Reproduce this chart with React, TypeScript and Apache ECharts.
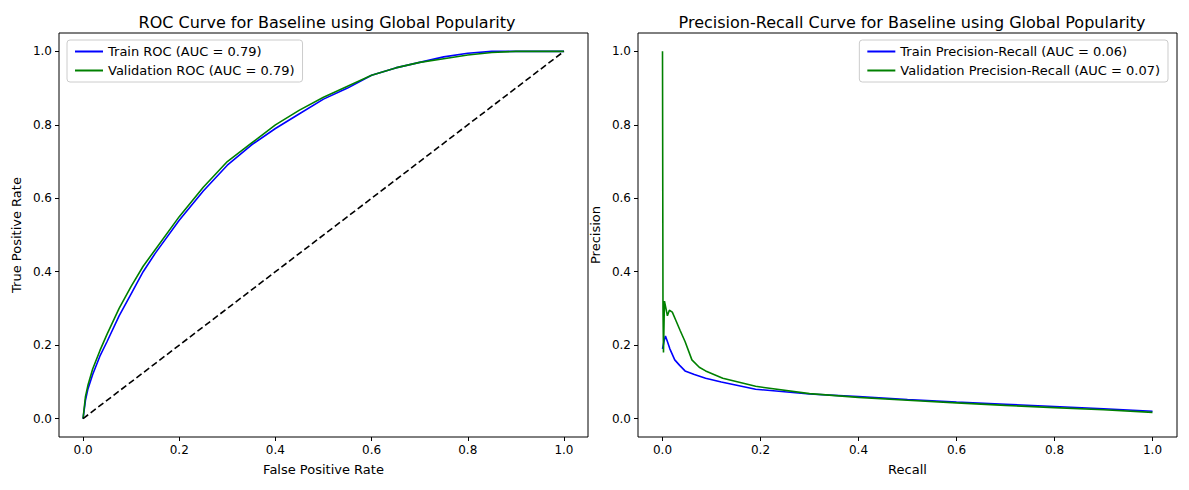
import React, { useEffect, useRef } from 'react';
import * as echarts from 'echarts';

const rocTrain: number[][] = [
  [0, 0], [0.005, 0.05], [0.01, 0.08], [0.02, 0.12], [0.035, 0.17], [0.05, 0.21], [0.075, 0.28], [0.1, 0.34],
  [0.125, 0.4], [0.15, 0.45], [0.2, 0.54], [0.25, 0.62], [0.3, 0.69], [0.35, 0.745], [0.4, 0.79],
  [0.45, 0.83], [0.5, 0.87], [0.55, 0.9], [0.6, 0.935], [0.65, 0.955], [0.7, 0.97], [0.75, 0.985],
  [0.8, 0.995], [0.85, 1.0], [1, 1],
];
const rocVal: number[][] = [
  [0, 0], [0.005, 0.06], [0.01, 0.09], [0.02, 0.135], [0.035, 0.185], [0.05, 0.23], [0.075, 0.3], [0.1, 0.36],
  [0.125, 0.415], [0.15, 0.46], [0.2, 0.55], [0.25, 0.63], [0.3, 0.7], [0.35, 0.75], [0.4, 0.8],
  [0.45, 0.84], [0.5, 0.875], [0.55, 0.905], [0.6, 0.935], [0.65, 0.955], [0.7, 0.97], [0.75, 0.98],
  [0.8, 0.99], [0.85, 0.997], [0.9, 1.0], [1, 1],
];
const diagonal: number[][] = [[0, 0], [1, 1]];
const prTrain: number[][] = [
  [0, 0.19], [0.003, 0.21], [0.006, 0.225], [0.01, 0.21], [0.015, 0.19], [0.025, 0.16], [0.035, 0.145],
  [0.046, 0.13], [0.065, 0.12], [0.088, 0.11], [0.12, 0.1], [0.19, 0.08], [0.3, 0.067], [0.4, 0.06],
  [0.5, 0.052], [0.6, 0.045], [0.7, 0.039], [0.8, 0.033], [0.9, 0.027], [1, 0.02],
];
const prVal: number[][] = [
  [0, 1.0], [0.001, 0.3], [0.002, 0.18], [0.004, 0.32], [0.007, 0.3], [0.01, 0.28], [0.014, 0.295],
  [0.02, 0.29], [0.028, 0.265], [0.036, 0.24], [0.046, 0.21], [0.06, 0.16], [0.075, 0.14], [0.088, 0.13],
  [0.123, 0.11], [0.19, 0.088], [0.3, 0.068], [0.4, 0.058], [0.5, 0.05], [0.6, 0.043], [0.7, 0.036],
  [0.8, 0.03], [0.9, 0.024], [1, 0.017],
];
const ticks = [0, 0.2, 0.4, 0.6, 0.8, 1.0];

const font = 'DejaVu Sans';

const axis = (gridIndex: number, name: string, horizontal: boolean) => ({
  type: 'value' as const,
  gridIndex,
  min: -0.05,
  max: 1.05,
  name,
  nameLocation: 'middle' as const,
  nameGap: horizontal ? 26 : 36,
  nameTextStyle: { fontFamily: font, fontSize: 13, color: '#000' },
  axisLine: { show: false, onZero: false },
  splitLine: { show: false },
  axisTick: { show: true, inside: false, length: 4, customValues: ticks, lineStyle: { color: '#000' } },
  axisLabel: {
    customValues: ticks,
    formatter: (v: number) => v.toFixed(1),
    fontFamily: font,
    fontSize: 12,
    color: '#000',
    margin: 7,
  },
});

const line = (name: string, data: number[][], color: string, x: number, dashed = false) => ({
  name,
  type: 'line' as const,
  xAxisIndex: x,
  yAxisIndex: x,
  data,
  showSymbol: false,
  symbol: 'none',
  lineStyle: { color, width: 1.6, type: dashed ? ('dashed' as const) : ('solid' as const) },
  itemStyle: { color },
});

const App: React.FC = () => {
  const chartRef = useRef<HTMLDivElement>(null);

  useEffect(() => {
    if (!chartRef.current) return;
    const chart = echarts.init(chartRef.current, undefined, { renderer: 'svg' });
    const legendBase = {
      orient: 'vertical' as const,
      top: 40,
      borderColor: '#ccc',
      borderWidth: 1,
      borderRadius: 3,
      padding: [5, 8],
      itemGap: 6,
      itemWidth: 28,
      itemHeight: 2,
      icon: 'rect',
      textStyle: { fontFamily: font, fontSize: 13, color: '#000' },
      backgroundColor: '#fff',
    };
    chart.setOption({
      animation: false,
      title: [
        { text: 'ROC Curve for Baseline using Global Popularity', left: 322, top: 9, textAlign: 'center',
          textStyle: { fontFamily: font, fontSize: 16, fontWeight: 'normal', color: '#000' } },
        { text: 'Precision-Recall Curve for Baseline using Global Popularity', left: 907, top: 9, textAlign: 'center',
          textStyle: { fontFamily: font, fontSize: 16, fontWeight: 'normal', color: '#000' } },
      ],
      legend: [
        { ...legendBase, left: 67, data: ['Train ROC (AUC = 0.79)', 'Validation ROC (AUC = 0.79)'] },
        { ...legendBase, right: 1189 - 1168,
          data: ['Train Precision-Recall (AUC = 0.06)', 'Validation Precision-Recall (AUC = 0.07)'] },
      ],
      grid: [
        { left: 59, top: 33, width: 529, height: 404, show: true, borderColor: '#000', borderWidth: 1 },
        { left: 638, top: 33, width: 539, height: 404, show: true, borderColor: '#000', borderWidth: 1 },
      ],
      xAxis: [axis(0, 'False Positive Rate', true), axis(1, 'Recall', true)],
      yAxis: [axis(0, 'True Positive Rate', false), axis(1, 'Precision', false)],
      series: [
        line('Train ROC (AUC = 0.79)', rocTrain, '#0000ff', 0),
        line('Validation ROC (AUC = 0.79)', rocVal, '#008000', 0),
        line('diag', diagonal, '#000', 0, true),
        line('Train Precision-Recall (AUC = 0.06)', prTrain, '#0000ff', 1),
        line('Validation Precision-Recall (AUC = 0.07)', prVal, '#008000', 1),
      ],
    });
    return () => chart.dispose();
  }, []);

  return (
    <div
      ref={chartRef}
      style={{ position: 'fixed', left: 0, top: 0, width: 1189, height: 490, background: '#fff' }}
    />
  );
};

export default App;
